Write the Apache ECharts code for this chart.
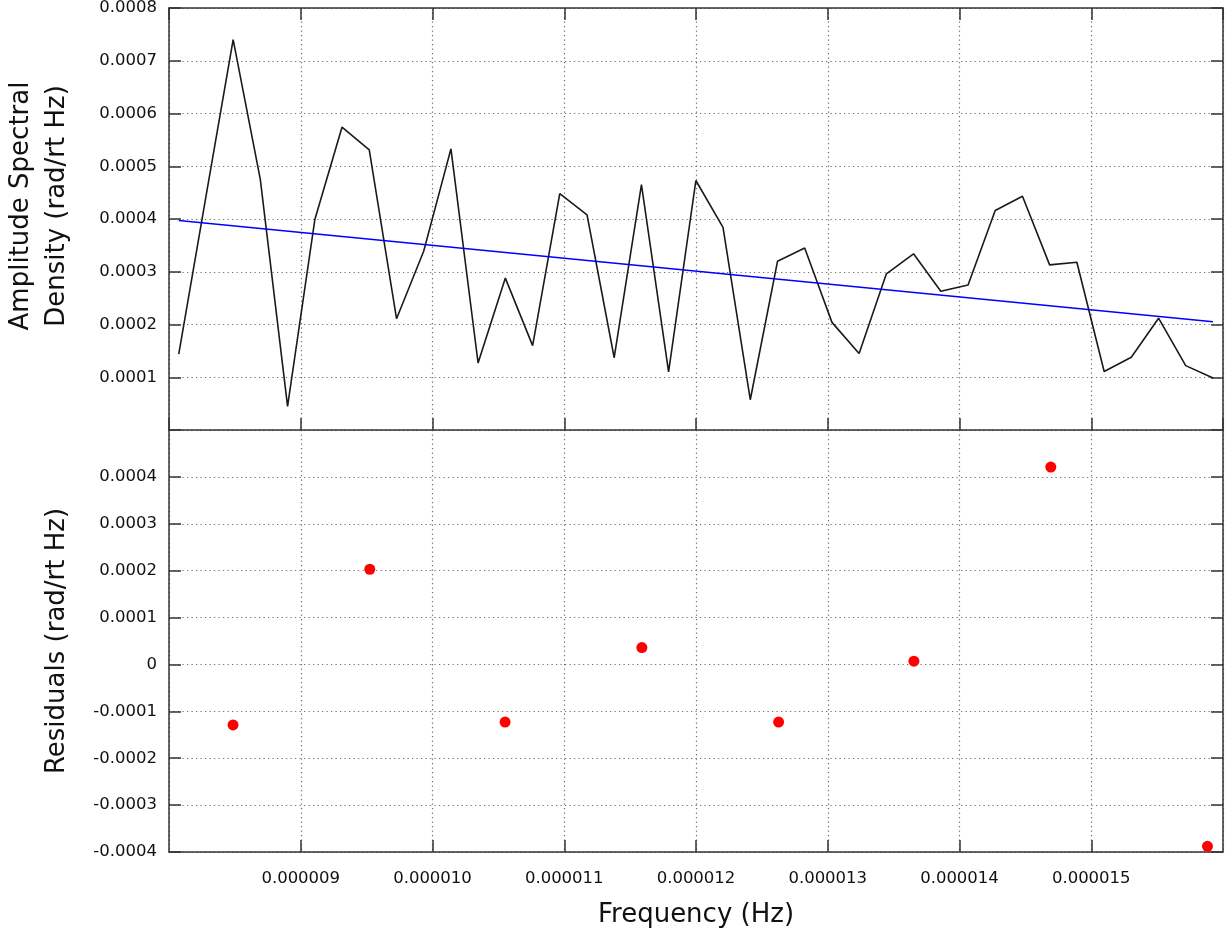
<!DOCTYPE html>
<html>
<head>
<meta charset="utf-8">
<script src="https://cdn.jsdelivr.net/npm/echarts@6.0.0/dist/echarts.min.js"></script>
<style>
  html, body { margin: 0; padding: 0; background: #fff; }
  #chart { width: 1227px; height: 939px; }
</style>
</head>
<body>
<div id="chart"></div>
<script>
// spectrum (top panel)
const freqHz = [
  8.074e-6, 8.280e-6, 8.487e-6, 8.693e-6, 8.900e-6, 9.107e-6, 9.313e-6, 9.520e-6,
  9.727e-6, 9.933e-6, 10.140e-6, 10.346e-6, 10.553e-6, 10.760e-6, 10.966e-6, 11.173e-6,
  11.379e-6, 11.586e-6, 11.792e-6, 11.999e-6, 12.205e-6, 12.412e-6, 12.619e-6, 12.825e-6,
  13.032e-6, 13.238e-6, 13.445e-6, 13.651e-6, 13.858e-6, 14.065e-6, 14.271e-6, 14.478e-6,
  14.684e-6, 14.891e-6, 15.098e-6, 15.304e-6, 15.511e-6, 15.717e-6, 15.924e-6
];
const asdValue = [
  0.000144, 0.000442, 0.000740, 0.000475, 0.0000447, 0.000399, 0.000574, 0.000531,
  0.000211, 0.000339, 0.000533, 0.000127, 0.000288, 0.000160, 0.000448, 0.000408,
  0.000137, 0.000465, 0.000110, 0.000473, 0.000384, 0.0000574, 0.000320, 0.000345,
  0.000204, 0.000145, 0.000296, 0.000334, 0.000263, 0.000275, 0.000416, 0.000443,
  0.000313, 0.000318, 0.000111, 0.000138, 0.000212, 0.000122, 0.0000986
];
// fitted line
const fitFreq = [8.074e-6, 15.924e-6];
const fitValue = [0.000397, 0.000205];

// residuals (bottom panel)
const residFreq = [8.486e-6, 9.524e-6, 10.551e-6, 11.589e-6, 12.627e-6, 13.654e-6, 14.693e-6, 15.882e-6];
const residValue = [-0.000129, 0.000203, -0.000123, 0.000036, -0.000123, 0.000007, 0.000421, -0.000388];

const FONT = 'DejaVu Sans';
const frameLine = { show: true, onZero: false, lineStyle: { color: '#333', width: 1.5 } };
const innerTick = { show: true, inside: true, length: 12, lineStyle: { color: '#333', width: 1.5 } };
const dotGrid = { show: true, lineStyle: { color: '#6e6e6e', width: 1.2, type: [1.2, 3.3] } };
const tickFont = { fontFamily: FONT, fontSize: 16.5, color: '#111' };

const xBase = {
  type: 'value', min: 0.000008, max: 0.000016, interval: 0.000001,
  axisLine: frameLine, axisTick: innerTick
};

const chart = echarts.init(document.getElementById('chart'));
chart.setOption({
  animation: false,
  backgroundColor: '#fff',
  grid: [
    { left: 169, right: 4, top: 8, height: 422, outerBoundsMode: 'none' },
    { left: 169, right: 4, top: 430, height: 422, outerBoundsMode: 'none' }
  ],
  xAxis: [
    Object.assign({}, xBase, { gridIndex: 0, position: 'bottom', axisLabel: { show: false }, splitLine: dotGrid }),
    Object.assign({}, xBase, { gridIndex: 0, position: 'top', axisLabel: { show: false }, splitLine: { show: false } }),
    Object.assign({}, xBase, {
      gridIndex: 1, position: 'bottom', splitLine: dotGrid,
      axisLabel: Object.assign({}, tickFont, {
        margin: 18, showMinLabel: false, showMaxLabel: false,
        formatter: v => v.toFixed(6)
      }),
      name: 'Frequency (Hz)', nameLocation: 'middle', nameGap: 50,
      nameTextStyle: { fontFamily: FONT, fontSize: 26, color: '#111' }
    })
  ],
  yAxis: [
    {
      type: 'value', gridIndex: 0, position: 'left', min: 0, max: 0.0008, interval: 0.0001,
      axisLine: frameLine, axisTick: innerTick, splitLine: dotGrid,
      axisLabel: Object.assign({}, tickFont, {
        margin: 12,
        formatter: v => (Math.abs(v) < 1e-12 ? '' : v.toFixed(4))
      }),
      name: 'Amplitude Spectral\nDensity (rad/rt Hz)', nameLocation: 'middle', nameGap: 94,
      nameTextStyle: { fontFamily: FONT, fontSize: 26, color: '#111', lineHeight: 36, padding: [0, 0, 0, 26] }
    },
    {
      type: 'value', gridIndex: 0, position: 'right', min: 0, max: 0.0008, interval: 0.0001,
      axisLine: frameLine, axisTick: innerTick, splitLine: { show: false }, axisLabel: { show: false }
    },
    {
      type: 'value', gridIndex: 1, position: 'left', min: -0.0004, max: 0.0005, interval: 0.0001,
      axisLine: frameLine, axisTick: innerTick, splitLine: dotGrid,
      axisLabel: Object.assign({}, tickFont, {
        margin: 12,
        formatter: v => {
          if (v > 0.00045) return '';
          if (Math.abs(v) < 1e-12) return '0';
          return v.toFixed(4);
        }
      }),
      name: 'Residuals (rad/rt Hz)', nameLocation: 'middle', nameGap: 99,
      nameTextStyle: { fontFamily: FONT, fontSize: 26, color: '#111' }
    },
    {
      type: 'value', gridIndex: 1, position: 'right', min: -0.0004, max: 0.0005, interval: 0.0001,
      axisLine: frameLine, axisTick: innerTick, splitLine: { show: false }, axisLabel: { show: false }
    }
  ],
  series: [
    {
      type: 'line', xAxisIndex: 0, yAxisIndex: 0, symbol: 'none',
      lineStyle: { color: '#1a1a1a', width: 1.6 },
      data: freqHz.map((f, i) => [f, asdValue[i]])
    },
    {
      type: 'line', xAxisIndex: 0, yAxisIndex: 0, symbol: 'none',
      lineStyle: { color: '#0000ff', width: 1.5 },
      data: fitFreq.map((f, i) => [f, fitValue[i]])
    },
    {
      type: 'scatter', xAxisIndex: 2, yAxisIndex: 2, symbol: 'circle', symbolSize: 11,
      itemStyle: { color: '#ff0000', opacity: 1 }, clip: false,
      data: residFreq.map((f, i) => [f, residValue[i]])
    }
  ]
});
</script>
</body>
</html>
